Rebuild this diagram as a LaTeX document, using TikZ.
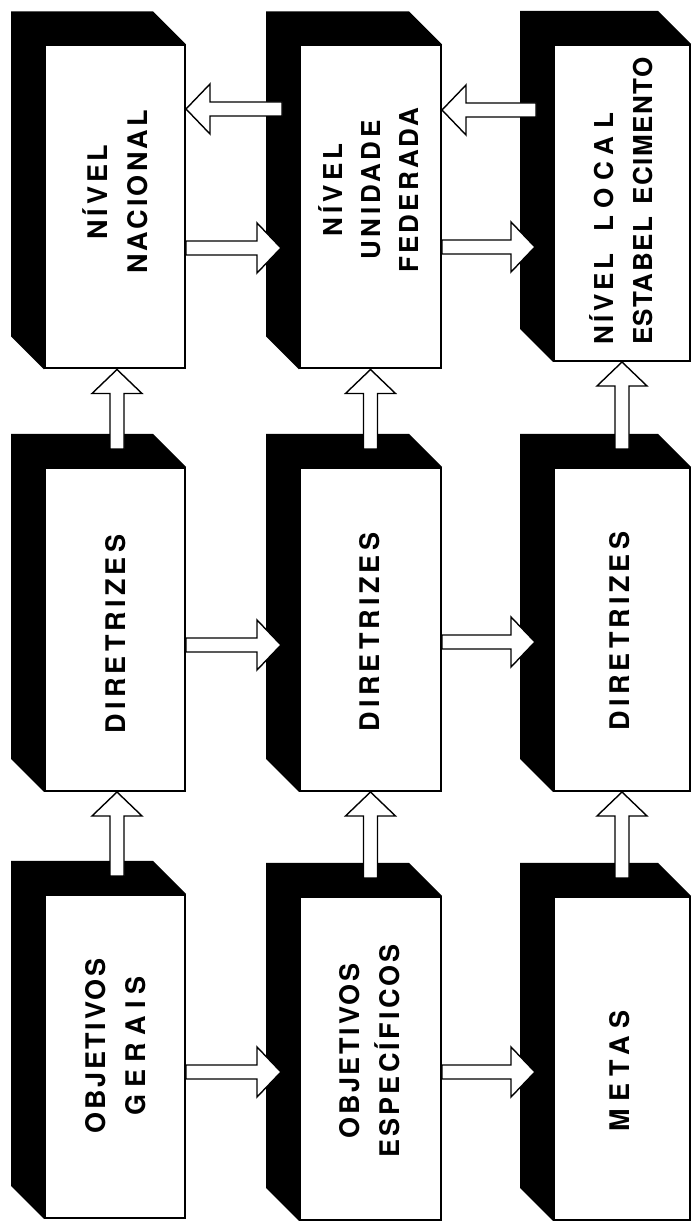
\documentclass[tikz,border=0pt]{standalone}
\usepackage{fontspec}
\setmainfont{TeX Gyre Heros}
\newfontfamily\lblfont{TeX Gyre Heros}[LetterSpace=10]
\usetikzlibrary{calc}
\pgfdeclarelayer{bg}
\pgfsetlayers{bg,main}
\newcommand\LS[2]{{\addfontfeatures{LetterSpace=#1}#2}}
\tikzset{
  x=1pt, y=1pt,
  face/.style={draw, line width=2pt, fill=white, minimum height=323pt, inner sep=0pt},
  lbl/.style={rotate=90, align=center, inner sep=0pt, font=\lblfont\bfseries\fontsize{27}{40}\selectfont},
  lblsmall/.style={lbl, font=\lblfont\bfseries\fontsize{26}{38}\selectfont},
  arrowbody/.style={draw, fill=white, line width=1.4pt, line join=miter},
}
\newcommand\boxshade[1]{%
  \fill ($(#1.north west)+(-33,33)$) -- ($(#1.north east)+(-33,33)$) -- (#1.north east)
        -- (#1.north west) -- (#1.south west) -- ($(#1.south west)+(-33,33)$) -- cycle;}
\newcommand\blockarrow[2]{%
  \draw[arrowbody] let \p1=(#1), \p2=(#2),
     \n1={atan2(\y2-\y1,\x2-\x1)}, \n2={veclen(\x2-\x1,\y2-\y1)} in
     [shift={(\p1)}, rotate=\n1]
     (0,-7) -- (\n2-24,-7) -- (\n2-24,-25) -- (\n2,0) -- (\n2-24,25) -- (\n2-24,7) -- (0,7) -- cycle;}
\begin{document}
\begin{tikzpicture}
\useasboundingbox (0,0) rectangle (693,1224);
% faces
\node[face, minimum width=140pt] (n11) at (115,1017) {};
\node[face, minimum width=141pt] (n12) at (370.5,1017) {};
\node[face, minimum width=136pt, minimum height=316pt] (n13) at (622,1021) {};
\node[face, minimum width=140pt] (n21) at (115,594.5) {};
\node[face, minimum width=141pt] (n22) at (370.5,594.5) {};
\node[face, minimum width=136pt] (n23) at (622,594.5) {};
\node[face, minimum width=140pt] (n31) at (115,167.5) {};
\node[face, minimum width=141pt] (n32) at (370.5,165.5) {};
\node[face, minimum width=136pt] (n33) at (622,165.5) {};
\begin{pgfonlayer}{bg}
  \fill[white] (0,0) rectangle (693,1224);
  \foreach \b in {n11,n12,n13,n21,n22,n23,n31,n32,n33} {\boxshade{\b}}
\end{pgfonlayer}
% labels
\node[lbl] (t11) at (115,1032) {\LS{14}{NÍVEL}\\\LS{12}{NACIONAL}};
\node[lblsmall] (t12) at (369,1034) {\LS{16}{NÍVEL}\\\LS{14}{UNIDADE}\\\LS{12}{FEDERADA}};
\node[lblsmall, align=left, font=\lblfont\bfseries\fontsize{26}{39}\selectfont] (t13) at (621,1023)
  {\LS{14}{NÍVEL}\hspace{22pt}\LS{30}{LOCAL}\\\LS{6}{ESTABEL}\hspace{12pt}\LS{6}{ECIMENTO}};
\node[lbl] (t21) at (116,590) {\LS{15.5}{DIRETRIZES}};
\node[lbl] (t22) at (370,592) {\LS{15.5}{DIRETRIZES}};
\node[lbl] (t23) at (620,593) {\LS{15.5}{DIRETRIZES}};
\node[lbl] (t31) at (115.5,178) {\LS{10}{OBJETIVOS}\\\LS{27}{GERAIS}};
\node[lbl] (t32) at (370,173) {\LS{10}{OBJETIVOS}\\\LS{12}{ESPECÍFICOS}};
\node[lbl] (t33) at (620,153) {\LS{26}{METAS}};
% horizontal arrows, row 1
\blockarrow{$(n12.west |- 0,1115)+(-17,0)$}{n11.east |- 0,1115}
\blockarrow{n11.east |- 0,976}{$(n12.west |- 0,976)+(-18,0)$}
\blockarrow{$(n13.west |- 0,1114)+(-17,0)$}{n12.east |- 0,1114}
\blockarrow{n12.east |- 0,977}{$(n13.west |- 0,977)+(-18,0)$}
% row 2
\blockarrow{n21.east |- 0,579}{$(n22.west |- 0,579)+(-18,0)$}
\blockarrow{n22.east |- 0,582}{$(n23.west |- 0,582)+(-18,0)$}
% row 3
\blockarrow{n31.east |- 0,152}{$(n32.west |- 0,152)+(-18,0)$}
\blockarrow{n32.east |- 0,152}{$(n33.west |- 0,152)+(-18,0)$}
% vertical arrows
\blockarrow{$(n21.north)+(2,18)$}{$(n11.south)+(2,0)$}
\blockarrow{$(n22.north)+(0,18)$}{n12.south}
\blockarrow{$(n23.north)+(0,18)$}{n13.south}
\blockarrow{$(n31.north)+(2,18)$}{$(n21.south)+(2,0)$}
\blockarrow{$(n32.north)+(0,18)$}{n22.south}
\blockarrow{$(n33.north)+(0,18)$}{n23.south}
\end{tikzpicture}
\end{document}
